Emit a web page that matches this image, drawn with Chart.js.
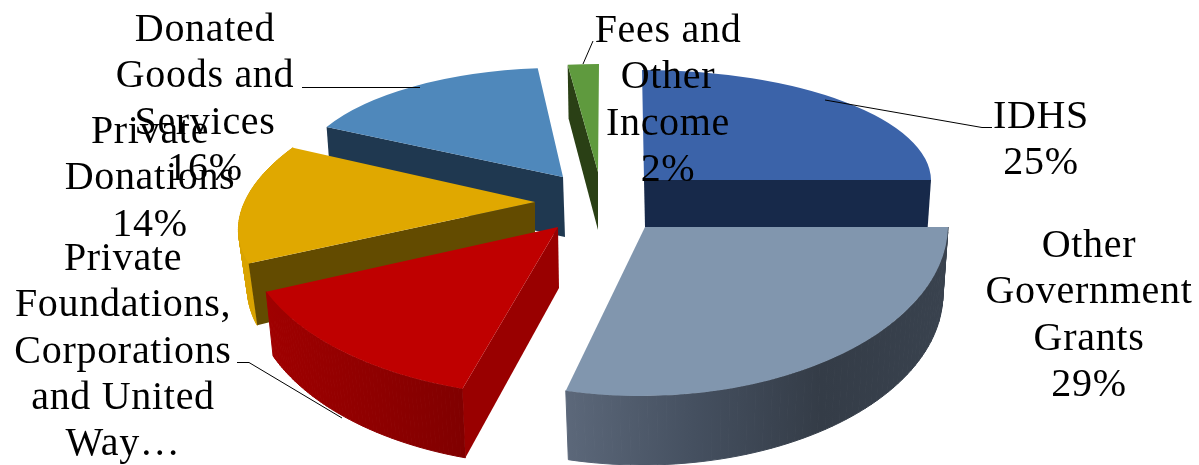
<!DOCTYPE html>
<html>
<head>
<meta charset="utf-8">
<style>
  html, body { margin: 0; background: #fff; }
  #wrap { width: 1199px; height: 465px; }
</style>
<script src="https://cdn.jsdelivr.net/npm/chart.js@4/dist/chart.umd.min.js"></script>
</head>
<body>
<div id="wrap"><canvas id="pie" width="1199" height="465"></canvas></div>
<script>
const categories = ["IDHS", "Other Government Grants", "Private Foundations, Corporations and United Way", "Private Donations", "Donated Goods and Services", "Fees and Other Income"];
const shares = [25, 29, 14, 14, 16, 2];
const topColors = ["#3b63a9", "#8196ae", "#bf0000", "#e0a800", "#4f88bb", "#5f9a3e"];

// wrapped the way the original labels are
const labelLines = [
  ["IDHS", "25%"],
  ["Other", "Government", "Grants", "29%"],
  ["Private", "Foundations,", "Corporations", "and United", "Way…"],
  ["Private", "Donations", "14%"],
  ["Donated", "Goods and", "Services", "16%"],
  ["Fees and", "Other", "Income", "2%"]
];
const labelCenterX = [1041, 1089, 123, 150, 205, 668];
const labelFirstBaseline = [128, 257, 270, 143, 41, 42];
const LINE_HEIGHT = 46.3;

// each slice sits in its own squashed, pulled-out view: apex plus the 2x2 matrix
const views = [
  { x: 644, y: 180, a: 287, b: 0, c: 2, d: 110 },
  { x: 645, y: 227, a: 303, b: 0, c: -4, d: 169 },
  { x: 558, y: 227, a: 314, b: 8, c: -18, d: 169 },
  { x: 535, y: 202, a: 292, b: -4, c: -52, d: 136 },
  { x: 563, y: 177, a: 265, b: 4, c: -8, d: 109 },
  { x: 598, y: 172, a: 250, b: 0, c: -1, d: 108 }
];
// how the underside of each slice differs from its top
const extrusions = [
  { dx: 1, depth: 47, sx: 0.985, sy: 1 },
  { dx: 1, depth: 69, sx: 0.98, sy: 1 },
  { dx: 1, depth: 61, sx: 0.98, sy: 1.05 },
  { dx: 0, depth: 55, sx: 0.97, sy: 1.11 },
  { dx: 2, depth: 60, sx: 0.99, sy: 1 },
  { dx: 0, depth: 58, sx: 0.97, sy: 1.04 }
];
const sideFaces = [
  { end: "#17294a" },
  { rim: ["#5c687a", "#455060", "#343c47", "#39424e"] },
  { rim: ["#a00000", "#900000", "#800000"], start: "#990000" },
  { rim: ["#d9a300", "#d9a300"], start: "#634b00" },
  { start: "#1f3850" },
  { start: "#2a4015" }
];
const paintOrder = [4, 5, 0, 3, 2, 1];
const leaderLines = [
  [[825, 100], [982, 127.5], [992, 127.5]],
  [[237, 362.5], [249, 362.5], [342, 418]],
  [[302, 87.5], [420, 87.5]],
  [[583, 64], [593, 41]]
];

function topPoint(v, t) {
  const u = Math.cos(t), w = Math.sin(t);
  return [v.x + v.a * u + v.c * w, v.y + v.b * u + v.d * w];
}

function bottomPoint(v, e, t) {
  const u = Math.cos(t), w = Math.sin(t);
  return [v.x + e.dx + e.sx * (v.a * u + v.c * w), v.y + e.depth + e.sy * (v.b * u + v.d * w)];
}

function fillPolygon(ctx, pts, fill) {
  ctx.beginPath();
  pts.forEach((p, i) => (i ? ctx.lineTo(p[0], p[1]) : ctx.moveTo(p[0], p[1])));
  ctx.closePath();
  ctx.fillStyle = fill;
  ctx.fill();
}

// swept strip by strip so the curved silhouette stays filled
function drawRim(ctx, arc, v, e, colors) {
  const upper = [], lower = [];
  for (let i = 0; i <= 60; i++) {
    const t = arc.startAngle + (arc.endAngle - arc.startAngle) * i / 60;
    upper.push(topPoint(v, t));
    lower.push(bottomPoint(v, e, t));
  }
  const xs = upper.concat(lower).map(p => p[0]);
  const grad = ctx.createLinearGradient(Math.min(...xs), 0, Math.max(...xs), 0);
  colors.forEach((c, i) => grad.addColorStop(i / (colors.length - 1), c));
  ctx.strokeStyle = grad;
  ctx.lineWidth = 1;
  for (let i = 0; i < 60; i++) {
    fillPolygon(ctx, [upper[i], upper[i + 1], lower[i + 1], lower[i]], grad);
    ctx.stroke();
  }
}

function drawEdge(ctx, v, e, t, fill) {
  const apexTop = [v.x, v.y];
  const apexBottom = [v.x + e.dx, v.y + e.depth];
  fillPolygon(ctx, [apexTop, topPoint(v, t), bottomPoint(v, e, t), apexBottom], fill);
}

const pie3d = {
  id: "pie3d",
  beforeDatasetsDraw(chart) {
    const ctx = chart.ctx;
    const arcs = chart.getDatasetMeta(0).data;
    paintOrder.forEach(i => {
      const arc = arcs[i], v = views[i], e = extrusions[i], f = sideFaces[i];
      if (f.rim) drawRim(ctx, arc, v, e, f.rim);
      if (f.start) drawEdge(ctx, v, e, arc.startAngle, f.start);
      if (f.end) drawEdge(ctx, v, e, arc.endAngle, f.end);

      const r = arc.outerRadius;
      ctx.save();
      ctx.transform(v.a / r, v.b / r, v.c / r, v.d / r, v.x, v.y);
      ctx.translate(-arc.x, -arc.y);
      arc.draw(ctx);
      ctx.restore();
    });
    return false;
  },
  afterDraw(chart) {
    const ctx = chart.ctx;
    ctx.save();
    ctx.strokeStyle = "#000";
    ctx.lineWidth = 1;
    leaderLines.forEach(line => {
      ctx.beginPath();
      line.forEach((p, i) => (i ? ctx.lineTo(p[0], p[1]) : ctx.moveTo(p[0], p[1])));
      ctx.stroke();
    });
    ctx.fillStyle = "#000";
    ctx.font = '40px "Liberation Serif"';
    ctx.letterSpacing = "0.7px";
    ctx.textAlign = "center";
    ctx.textBaseline = "alphabetic";
    labelLines.forEach((lines, i) => {
      lines.forEach((text, k) => {
        ctx.fillText(text, labelCenterX[i], labelFirstBaseline[i] + k * LINE_HEIGHT);
      });
    });
    ctx.restore();
  }
};

new Chart(document.getElementById("pie"), {
  type: "pie",
  data: {
    labels: categories,
    datasets: [{ data: shares, backgroundColor: topColors, borderWidth: 0 }]
  },
  options: {
    responsive: false,
    animation: false,
    plugins: { legend: { display: false }, tooltip: { enabled: false } }
  },
  plugins: [pie3d]
});
</script>
</body>
</html>
